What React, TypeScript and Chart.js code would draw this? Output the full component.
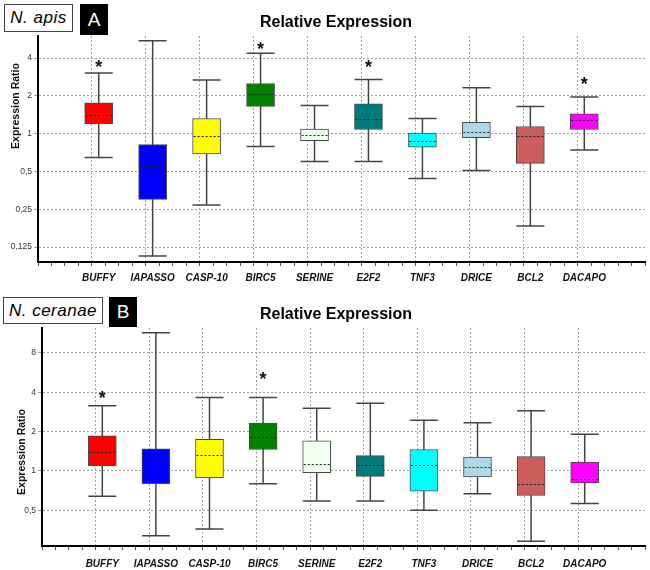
import React, { useEffect, useRef } from 'react';
import { Chart, registerables } from 'chart.js';

Chart.register(...registerables);

// ---------- data ----------
const genes = ['BUFFY', 'IAPASSO', 'CASP-10', 'BIRC5', 'SERINE', 'E2F2', 'TNF3', 'DRICE', 'BCL2', 'DACAPO'];
const boxColors = ['#ff0000', '#0000ff', '#ffff00', '#008000', '#f0fff0', '#007b7b', '#00ffff', '#add8e6', '#cd5c5c', '#ff00ff'];

// Panel A: N. apis
const apisMin = [0.647, 0.106, 0.27, 0.79, 0.6, 0.6, 0.44, 0.51, 0.184, 0.74];
const apisQ1 = [1.2, 0.3, 0.69, 1.65, 0.88, 1.08, 0.78, 0.93, 0.58, 1.08];
const apisMedian = [1.4, 0.55, 0.96, 2.07, 0.97, 1.32, 0.87, 1.03, 0.96, 1.28];
const apisQ3 = [1.76, 0.82, 1.32, 2.51, 1.09, 1.73, 1.01, 1.23, 1.14, 1.44];
const apisMax = [3.05, 5.5, 2.68, 4.38, 1.68, 2.7, 1.32, 2.32, 1.65, 1.96];
const apisStars = [3.56, null, null, 4.98, null, 3.56, null, null, null, 2.65];
const apisTicks = [0.125, 0.25, 0.5, 1, 2, 4];

// Panel B: N. ceranae
const ceranaeMin = [0.64, 0.32, 0.36, 0.8, 0.59, 0.59, 0.5, 0.67, 0.29, 0.565];
const ceranaeQ1 = [1.1, 0.8, 0.89, 1.46, 0.97, 0.91, 0.7, 0.9, 0.65, 0.81];
const ceranaeMedian = [1.39, 1.0, 1.32, 1.82, 1.14, 1.11, 1.12, 1.07, 0.8, 0.87];
const ceranaeQ3 = [1.86, 1.48, 1.75, 2.32, 1.7, 1.31, 1.46, 1.28, 1.29, 1.17];
const ceranaeMax = [3.16, 11.4, 3.65, 3.65, 3.02, 3.29, 2.44, 2.34, 2.89, 1.91];
const ceranaeStars = [3.84, null, null, 5.36, null, null, null, null, null, null];
const ceranaeTicks = [0.5, 1, 2, 4, 8];

const FONT = '"Liberation Sans", Arial, Helvetica, sans-serif';

const boxPlugin = {
  id: 'boxWhiskers',
  beforeDatasetsDraw(chart: any, _args: any, opts: any) {
    const { ctx } = chart;
    const xs = chart.scales.x;
    const ys = chart.scales.y;
    const meta = chart.getDatasetMeta(0);
    ctx.save();
    ctx.strokeStyle = '#444';
    ctx.lineWidth = 1.5;
    opts.min.forEach((mn: number, i: number) => {
      const px = xs.getPixelForValue(i + 1);
      const half = meta.data[i].width / 2;
      const top = ys.getPixelForValue(opts.max[i]);
      const bot = ys.getPixelForValue(mn);
      ctx.beginPath();
      ctx.moveTo(px, top);
      ctx.lineTo(px, bot);
      ctx.moveTo(px - half, top);
      ctx.lineTo(px + half, top);
      ctx.moveTo(px - half, bot);
      ctx.lineTo(px + half, bot);
      ctx.stroke();
    });
    ctx.restore();
  },
  afterDatasetsDraw(chart: any, _args: any, opts: any) {
    const { ctx } = chart;
    const xs = chart.scales.x;
    const ys = chart.scales.y;
    const meta = chart.getDatasetMeta(0);
    ctx.save();
    // medians
    ctx.strokeStyle = '#222';
    ctx.lineWidth = 1;
    ctx.setLineDash([2, 2]);
    opts.median.forEach((md: number, i: number) => {
      const px = xs.getPixelForValue(i + 1);
      const half = meta.data[i].width / 2;
      const py = Math.round(ys.getPixelForValue(md)) + 0.5;
      ctx.beginPath();
      ctx.moveTo(px - half + 1, py);
      ctx.lineTo(px + half - 1, py);
      ctx.stroke();
    });
    ctx.setLineDash([]);
    // stars
    ctx.fillStyle = '#111';
    ctx.font = `bold 18px ${FONT}`;
    ctx.textAlign = 'center';
    ctx.textBaseline = 'middle';
    opts.stars.forEach((s: number | null, i: number) => {
      if (s == null) return;
      ctx.fillText('*', xs.getPixelForValue(i + 1), ys.getPixelForValue(s) + 4);
    });
    // title
    ctx.fillStyle = '#000';
    ctx.font = `bold 16px ${FONT}`;
    ctx.fillText(opts.title, opts.titleX, opts.titleY);
    // y axis title
    ctx.translate(opts.yTitleX, opts.yTitleY);
    ctx.rotate(-Math.PI / 2);
    ctx.font = `bold 10.5px ${FONT}`;
    ctx.fillStyle = '#111';
    ctx.fillText('Expression Ratio', 0, 0);
    ctx.restore();
  },
};

function fmtTick(v: number) {
  return String(v).replace('.', ',');
}

interface PanelProps {
  width: number;
  height: number;
  min: number[];
  q1: number[];
  median: number[];
  q3: number[];
  max: number[];
  stars: (number | null)[];
  yTicks: number[];
  yMin: number;
  yMax: number;
  padTop: number;
  axisWidth: number;
  xAxisHeight: number;
  labelPad: number;
  titleY: number;
  yTitleX: number;
  yTitleY: number;
}

function Panel(p: PanelProps) {
  const ref = useRef<HTMLCanvasElement | null>(null);
  useEffect(() => {
    if (!ref.current) return;
    const chart = new Chart(ref.current, {
      type: 'bar',
      data: {
        datasets: [
          {
            data: genes.map((_, i) => ({ x: i + 1, y: [p.q1[i], p.q3[i]] })) as any,
            backgroundColor: boxColors,
            borderColor: '#4a4a4a',
            borderWidth: 1,
            borderSkipped: false,
            barThickness: 28,
          },
        ],
      },
      options: {
        responsive: false,
        maintainAspectRatio: false,
        animation: false,
        layout: { padding: { left: 0, right: 5, top: p.padTop, bottom: 0 } },
        plugins: {
          legend: { display: false },
          tooltip: { enabled: false },
          title: { display: false },
          boxWhiskers: {
            min: p.min,
            max: p.max,
            median: p.median,
            stars: p.stars,
            title: 'Relative Expression',
            titleX: 336,
            titleY: p.titleY,
            yTitleX: p.yTitleX,
            yTitleY: p.yTitleY,
          },
        } as any,
        scales: {
          x: {
            type: 'linear',
            min: 0,
            max: 11,
            afterBuildTicks: (s: any) => {
              const t = [];
              for (let k = 0; k <= 44; k++) t.push({ value: k * 0.25 });
              s.ticks = t;
            },
            afterFit: (s: any) => {
              s.height = p.xAxisHeight;
            },
            ticks: {
              autoSkip: false,
              maxRotation: 0,
              minRotation: 0,
              padding: p.labelPad,
              color: '#111',
              font: { family: FONT, size: 10, style: 'italic', weight: 'bold' },
              callback: (v: any) => {
                const n = Number(v);
                return Number.isInteger(n) && n >= 1 && n <= 10 ? genes[n - 1] : '';
              },
            },
            grid: {
              color: (c: any) => {
                const v = c.tick ? c.tick.value : -1;
                return Number.isInteger(v) && v >= 1 && v <= 10 ? '#a0a0a0' : 'rgba(0,0,0,0)';
              },
              lineWidth: 1,
              tickLength: 4,
              tickColor: '#555',
              tickWidth: 1,
            },
            border: { display: true, color: '#000', width: 2, dash: [2, 2] },
          },
          y: {
            type: 'logarithmic',
            min: p.yMin,
            max: p.yMax,
            afterBuildTicks: (s: any) => {
              s.ticks = p.yTicks.map((v) => ({ value: v }));
            },
            afterFit: (s: any) => {
              s.width = p.axisWidth;
            },
            ticks: {
              padding: 2,
              color: '#333',
              font: { family: FONT, size: 8.5 },
              callback: (v: any) => fmtTick(Number(v)),
            },
            grid: {
              color: '#a0a0a0',
              lineWidth: 1,
              tickLength: 4,
              tickColor: '#a0a0a0',
            },
            border: { display: true, color: '#000', width: 2, dash: [2, 2] },
          },
        },
      },
      plugins: [boxPlugin as any],
    });
    return () => chart.destroy();
  }, []);
  return <canvas ref={ref} width={p.width} height={p.height} style={{ display: 'block' }} />;
}

const labelBox: React.CSSProperties = {
  position: 'absolute',
  boxSizing: 'border-box',
  border: '1px solid #444',
  background: '#fff',
  fontFamily: FONT,
  fontStyle: 'italic',
  fontSize: 17,
  color: '#000',
  display: 'flex',
  alignItems: 'center',
  justifyContent: 'center',
  letterSpacing: 0.5,
};
const letterBox: React.CSSProperties = {
  position: 'absolute',
  background: '#000',
  color: '#fff',
  fontFamily: FONT,
  fontSize: 19,
  display: 'flex',
  alignItems: 'center',
  justifyContent: 'center',
};

export default function App() {
  return (
    <div style={{ position: 'absolute', left: 0, top: 0, width: 650, height: 570, background: '#fff', overflow: 'hidden' }}>
      <div style={{ position: 'absolute', left: 0, top: 0 }}>
        <Panel
          width={650}
          height={283}
          min={apisMin}
          q1={apisQ1}
          median={apisMedian}
          q3={apisQ3}
          max={apisMax}
          stars={apisStars}
          yTicks={apisTicks}
          yMin={0.095}
          yMax={6.0}
          padTop={36}
          axisWidth={38}
          xAxisHeight={21}
          labelPad={6}
          titleY={23}
          yTitleX={16}
          yTitleY={106}
        />
      </div>
      <div style={{ position: 'absolute', left: 0, top: 285 }}>
        <Panel
          width={650}
          height={285}
          min={ceranaeMin}
          q1={ceranaeQ1}
          median={ceranaeMedian}
          q3={ceranaeQ3}
          max={ceranaeMax}
          stars={ceranaeStars}
          yTicks={ceranaeTicks}
          yMin={0.267}
          yMax={12.4}
          padTop={43}
          axisWidth={42}
          xAxisHeight={24}
          labelPad={8}
          titleY={30}
          yTitleX={22}
          yTitleY={167}
        />
      </div>
      <div style={{ ...labelBox, left: 4, top: 4, width: 69, height: 28 }}>N. apis</div>
      <div style={{ ...letterBox, left: 80, top: 4, width: 28, height: 31 }}>A</div>
      <div style={{ ...labelBox, left: 3, top: 297, width: 100, height: 27 }}>N. ceranae</div>
      <div style={{ ...letterBox, left: 109, top: 297, width: 28, height: 30 }}>B</div>
    </div>
  );
}
